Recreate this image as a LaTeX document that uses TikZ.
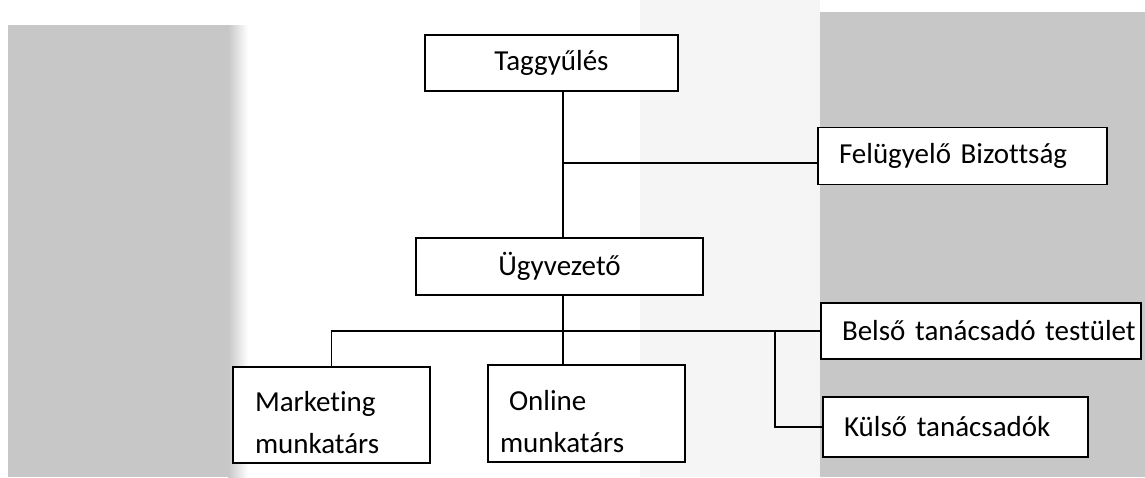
\documentclass[tikz,border=0pt]{standalone}
\usepackage{fontspec}
\setmainfont{Carlito}[Ligatures=NoCommon]
\usepackage{tikz}
\usetikzlibrary{positioning, calc, backgrounds}

\begin{document}
\begin{tikzpicture}[
    x=1pt, y=-1pt,
    unit/.style={draw=black, line width=1.3pt, fill=white, rectangle, inner sep=0pt, font=\fontsize{29}{42}\selectfont},
    midunit/.style={unit, align=center},
    sideunit/.style={unit, align=left, inner xsep=21pt},
    conn/.style={line width=1.3pt},
    scan/.style={fill=black!22, draw=none},
    scanlight/.style={fill=black!4, draw=none}
]
\useasboundingbox (0,0) rectangle (1145,477);

% Boxen
\node[midunit, minimum width=253pt, minimum height=56pt] (tagy) at (551.5,63) {Taggyűlés};
\node[sideunit, text width=247pt, minimum height=57pt] (felugy) at (962.5,156) {\mbox{Felügyelő Bizottság}};
\node[midunit, minimum width=287pt, minimum height=57pt] (ugyv) at (559.5,266.5) {Ügyvezető};
\node[sideunit, text width=278pt, minimum height=56pt] (belso) at (981,331) {\mbox{Belső tanácsadó testület}};
\node[sideunit, text width=223pt, minimum height=60pt] (kulso) at (955.5,427) {\mbox{Külső tanácsadók}};
\node[sideunit, text width=153pt, inner xsep=22pt, minimum height=96pt] (market) at (331.5,415) {\rule{0pt}{36pt}Marketing\\munkatárs};
\node[sideunit, text width=173pt, inner xsep=12pt, minimum height=97pt] (online) at (586.5,413.5) {\rule{0pt}{36pt}\hspace{9pt}Online\\munkatárs};

% Verbindungen
\coordinate (spine) at (563,0);
\coordinate (fbjoin) at (563,163);
\coordinate (kbranch) at (775,331);
\draw[conn] (tagy.south -| spine) -- (ugyv.north -| spine);
\draw[conn] (fbjoin) -- (fbjoin -| felugy.west);
\draw[conn] (ugyv.south -| spine) -- (online.north -| spine);
\draw[conn] (market.north) |- (belso.west);
\draw[conn] (kbranch) |- (kulso.west);

% Hintergrund (Scan)
\begin{scope}[on background layer]
\fill[scanlight] (640,0) rectangle (820,477);
\fill[scan] (8,25) rectangle (228,477);
\shade[left color=black!22, right color=white] (228,25) rectangle (248,477);
\fill[scan] (820,12) rectangle (1145,477);
\end{scope}

\end{tikzpicture}
\end{document}
